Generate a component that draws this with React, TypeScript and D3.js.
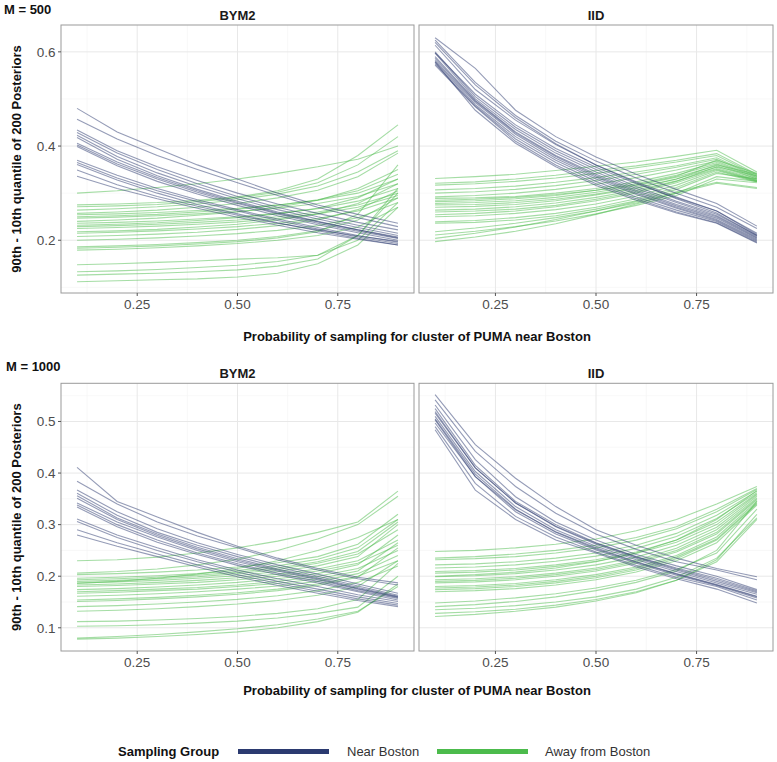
import { useEffect, useRef } from 'react';
import * as d3 from 'd3';

// sampling probabilities (x) shared by every line
const probs = [0.1, 0.2, 0.3, 0.4, 0.5, 0.6, 0.7, 0.8, 0.9];

const facets = ['BYM2', 'IID'];
const groups = ['Near Boston', 'Away from Boston'];
const groupColors = ['#2B3A70', '#4CBB4C'];

const xTicks = [0.25, 0.5, 0.75];
const xMinor = [0.125, 0.375, 0.625, 0.875];
const yTicks500 = [0.2, 0.4, 0.6];
const yMinor500 = [0.1, 0.3, 0.5];
const yTicks1000 = [0.1, 0.2, 0.3, 0.4, 0.5];
const yMinor1000 = [0.15, 0.25, 0.35, 0.45, 0.55];

// M = 500, BYM2
const near500BYM2 = [
  [0.48, 0.43, 0.395, 0.36, 0.33, 0.3, 0.275, 0.255, 0.236],
  [0.457, 0.415, 0.38, 0.35, 0.322, 0.295, 0.27, 0.248, 0.229],
  [0.434, 0.39, 0.356, 0.327, 0.3, 0.277, 0.257, 0.238, 0.222],
  [0.429, 0.385, 0.35, 0.32, 0.293, 0.27, 0.25, 0.232, 0.215],
  [0.423, 0.378, 0.343, 0.314, 0.288, 0.265, 0.245, 0.227, 0.21],
  [0.418, 0.372, 0.337, 0.308, 0.283, 0.26, 0.24, 0.222, 0.205],
  [0.406, 0.366, 0.333, 0.305, 0.28, 0.258, 0.239, 0.222, 0.207],
  [0.402, 0.362, 0.33, 0.302, 0.278, 0.256, 0.236, 0.219, 0.204],
  [0.399, 0.358, 0.325, 0.298, 0.274, 0.252, 0.233, 0.216, 0.2],
  [0.37, 0.338, 0.31, 0.286, 0.265, 0.245, 0.227, 0.21, 0.196],
  [0.365, 0.332, 0.305, 0.282, 0.262, 0.242, 0.224, 0.207, 0.193],
  [0.361, 0.328, 0.3, 0.276, 0.256, 0.237, 0.22, 0.204, 0.19],
  [0.349, 0.318, 0.293, 0.272, 0.253, 0.236, 0.222, 0.209, 0.198],
  [0.336, 0.31, 0.288, 0.268, 0.249, 0.232, 0.216, 0.202, 0.19],
];
const away500BYM2 = [
  [0.3, 0.305, 0.312, 0.32, 0.33, 0.342, 0.356, 0.372, 0.4],
  [0.275, 0.277, 0.28, 0.285, 0.292, 0.305, 0.33, 0.38, 0.445],
  [0.271, 0.273, 0.276, 0.282, 0.29, 0.302, 0.322, 0.36, 0.42],
  [0.264, 0.267, 0.271, 0.277, 0.286, 0.298, 0.315, 0.345, 0.39],
  [0.257, 0.26, 0.264, 0.27, 0.278, 0.29, 0.306, 0.335, 0.385],
  [0.254, 0.256, 0.259, 0.263, 0.268, 0.275, 0.285, 0.3, 0.33],
  [0.25, 0.252, 0.255, 0.26, 0.266, 0.274, 0.286, 0.305, 0.34],
  [0.247, 0.249, 0.252, 0.256, 0.261, 0.268, 0.278, 0.293, 0.32],
  [0.24, 0.243, 0.247, 0.253, 0.26, 0.27, 0.285, 0.31, 0.35],
  [0.236, 0.238, 0.241, 0.245, 0.25, 0.257, 0.267, 0.283, 0.31],
  [0.232, 0.234, 0.237, 0.242, 0.248, 0.256, 0.268, 0.29, 0.33],
  [0.229, 0.231, 0.234, 0.238, 0.243, 0.25, 0.26, 0.275, 0.3],
  [0.225, 0.227, 0.23, 0.234, 0.239, 0.246, 0.256, 0.27, 0.295],
  [0.218, 0.22, 0.223, 0.228, 0.234, 0.243, 0.256, 0.278, 0.32],
  [0.215, 0.217, 0.22, 0.224, 0.229, 0.236, 0.246, 0.262, 0.29],
  [0.208, 0.21, 0.213, 0.217, 0.223, 0.231, 0.243, 0.265, 0.305],
  [0.2, 0.202, 0.205, 0.209, 0.214, 0.221, 0.231, 0.248, 0.28],
  [0.186, 0.188, 0.191, 0.195, 0.2, 0.208, 0.22, 0.243, 0.29],
  [0.183, 0.185, 0.188, 0.192, 0.197, 0.205, 0.218, 0.255, 0.36],
  [0.179, 0.181, 0.184, 0.188, 0.193, 0.2, 0.21, 0.228, 0.27],
  [0.148, 0.15, 0.153, 0.156, 0.16, 0.163, 0.168, 0.21, 0.31],
  [0.133, 0.135, 0.138, 0.142, 0.147, 0.155, 0.168, 0.2, 0.28],
  [0.126, 0.128, 0.13, 0.133, 0.137, 0.145, 0.16, 0.21, 0.3],
  [0.112, 0.114, 0.116, 0.118, 0.122, 0.13, 0.15, 0.19, 0.27],
];

// M = 500, IID
const near500IID = [
  [0.63, 0.565, 0.476, 0.42, 0.377, 0.34, 0.308, 0.278, 0.23],
  [0.625, 0.535, 0.465, 0.41, 0.368, 0.332, 0.3, 0.27, 0.225],
  [0.614, 0.52, 0.455, 0.403, 0.36, 0.324, 0.292, 0.262, 0.215],
  [0.62, 0.53, 0.46, 0.405, 0.36, 0.322, 0.288, 0.258, 0.21],
  [0.6, 0.505, 0.44, 0.39, 0.35, 0.314, 0.283, 0.255, 0.21],
  [0.598, 0.51, 0.445, 0.395, 0.355, 0.32, 0.29, 0.262, 0.212],
  [0.597, 0.5, 0.435, 0.385, 0.345, 0.31, 0.28, 0.252, 0.208],
  [0.59, 0.497, 0.43, 0.38, 0.34, 0.306, 0.276, 0.25, 0.206],
  [0.586, 0.495, 0.428, 0.378, 0.337, 0.303, 0.273, 0.247, 0.204],
  [0.582, 0.492, 0.425, 0.374, 0.334, 0.3, 0.27, 0.244, 0.202],
  [0.579, 0.488, 0.42, 0.37, 0.33, 0.297, 0.268, 0.242, 0.2],
  [0.578, 0.476, 0.406, 0.356, 0.316, 0.285, 0.258, 0.236, 0.194],
  [0.575, 0.485, 0.415, 0.365, 0.325, 0.292, 0.264, 0.24, 0.198],
  [0.572, 0.483, 0.41, 0.36, 0.32, 0.288, 0.26, 0.237, 0.196],
];
const away500IID = [
  [0.331, 0.335, 0.34, 0.348, 0.357, 0.366, 0.378, 0.391, 0.345],
  [0.321, 0.324, 0.33, 0.338, 0.348, 0.358, 0.37, 0.384, 0.34],
  [0.317, 0.32, 0.325, 0.332, 0.342, 0.354, 0.366, 0.38, 0.338],
  [0.307, 0.31, 0.315, 0.323, 0.333, 0.345, 0.358, 0.375, 0.336],
  [0.3, 0.303, 0.308, 0.316, 0.327, 0.34, 0.355, 0.372, 0.335],
  [0.292, 0.295, 0.3, 0.308, 0.319, 0.333, 0.349, 0.368, 0.333],
  [0.289, 0.29, 0.293, 0.3, 0.31, 0.324, 0.342, 0.365, 0.332],
  [0.285, 0.287, 0.291, 0.297, 0.306, 0.318, 0.336, 0.37, 0.342],
  [0.282, 0.284, 0.288, 0.295, 0.306, 0.32, 0.338, 0.362, 0.33],
  [0.278, 0.28, 0.284, 0.291, 0.302, 0.316, 0.334, 0.358, 0.33],
  [0.275, 0.276, 0.28, 0.287, 0.298, 0.312, 0.33, 0.355, 0.328],
  [0.27, 0.272, 0.276, 0.284, 0.296, 0.31, 0.33, 0.36, 0.34],
  [0.264, 0.266, 0.271, 0.279, 0.291, 0.306, 0.326, 0.352, 0.327],
  [0.26, 0.262, 0.266, 0.274, 0.287, 0.303, 0.325, 0.356, 0.337],
  [0.254, 0.257, 0.262, 0.271, 0.284, 0.3, 0.322, 0.35, 0.326],
  [0.25, 0.252, 0.257, 0.265, 0.277, 0.294, 0.317, 0.348, 0.325],
  [0.239, 0.242, 0.248, 0.257, 0.27, 0.288, 0.312, 0.345, 0.324],
  [0.236, 0.238, 0.243, 0.252, 0.266, 0.284, 0.308, 0.342, 0.33],
  [0.218, 0.226, 0.236, 0.248, 0.262, 0.279, 0.3, 0.335, 0.325],
  [0.211, 0.219, 0.229, 0.241, 0.256, 0.274, 0.295, 0.33, 0.322],
  [0.204, 0.215, 0.228, 0.244, 0.262, 0.282, 0.303, 0.323, 0.312],
  [0.197, 0.207, 0.219, 0.235, 0.255, 0.277, 0.3, 0.321, 0.31],
];

// M = 1000, BYM2
const near1000BYM2 = [
  [0.411, 0.345, 0.315, 0.285, 0.258, 0.235, 0.215, 0.198, 0.187],
  [0.384, 0.34, 0.305, 0.278, 0.255, 0.232, 0.212, 0.195, 0.183],
  [0.367, 0.325, 0.292, 0.265, 0.242, 0.222, 0.204, 0.185, 0.167],
  [0.361, 0.318, 0.285, 0.26, 0.238, 0.218, 0.2, 0.181, 0.163],
  [0.356, 0.313, 0.282, 0.256, 0.234, 0.214, 0.197, 0.178, 0.161],
  [0.351, 0.31, 0.279, 0.253, 0.231, 0.212, 0.195, 0.176, 0.16],
  [0.342, 0.305, 0.276, 0.25, 0.228, 0.21, 0.193, 0.175, 0.159],
  [0.338, 0.3, 0.27, 0.245, 0.224, 0.206, 0.19, 0.172, 0.157],
  [0.334, 0.296, 0.266, 0.242, 0.221, 0.203, 0.187, 0.17, 0.154],
  [0.311, 0.28, 0.255, 0.232, 0.212, 0.195, 0.18, 0.164, 0.151],
  [0.306, 0.275, 0.25, 0.228, 0.208, 0.19, 0.175, 0.16, 0.147],
  [0.29, 0.265, 0.243, 0.222, 0.203, 0.186, 0.171, 0.156, 0.144],
  [0.28, 0.258, 0.238, 0.218, 0.199, 0.182, 0.167, 0.153, 0.141],
];
const away1000BYM2 = [
  [0.23, 0.232, 0.237, 0.245, 0.255, 0.268, 0.285, 0.305, 0.365],
  [0.206, 0.209, 0.214, 0.222, 0.233, 0.25, 0.272, 0.3, 0.355],
  [0.203, 0.205, 0.208, 0.212, 0.218, 0.226, 0.238, 0.262, 0.32],
  [0.196, 0.198, 0.201, 0.205, 0.211, 0.22, 0.233, 0.255, 0.31],
  [0.193, 0.195, 0.198, 0.202, 0.208, 0.216, 0.228, 0.248, 0.305],
  [0.19, 0.192, 0.195, 0.199, 0.205, 0.213, 0.225, 0.243, 0.29],
  [0.187, 0.189, 0.192, 0.196, 0.201, 0.209, 0.22, 0.238, 0.3],
  [0.186, 0.19, 0.196, 0.204, 0.215, 0.23, 0.25, 0.275, 0.31],
  [0.183, 0.185, 0.188, 0.192, 0.197, 0.204, 0.214, 0.23, 0.27],
  [0.18, 0.182, 0.185, 0.188, 0.193, 0.2, 0.21, 0.225, 0.26],
  [0.174, 0.176, 0.179, 0.183, 0.188, 0.195, 0.205, 0.222, 0.28],
  [0.17, 0.172, 0.175, 0.178, 0.183, 0.19, 0.2, 0.215, 0.25],
  [0.167, 0.169, 0.172, 0.175, 0.18, 0.186, 0.195, 0.21, 0.265],
  [0.161, 0.163, 0.166, 0.17, 0.175, 0.181, 0.19, 0.205, 0.24],
  [0.154, 0.156, 0.159, 0.163, 0.168, 0.175, 0.185, 0.2, 0.23],
  [0.151, 0.153, 0.156, 0.16, 0.165, 0.172, 0.182, 0.198, 0.255],
  [0.141, 0.143, 0.146, 0.15, 0.155, 0.162, 0.172, 0.188, 0.22],
  [0.132, 0.134, 0.137, 0.141, 0.146, 0.153, 0.163, 0.18, 0.23],
  [0.112, 0.113, 0.115, 0.118, 0.122, 0.128, 0.137, 0.155, 0.225],
  [0.103, 0.104, 0.106, 0.109, 0.113, 0.119, 0.128, 0.14, 0.2],
  [0.08, 0.083, 0.087, 0.092, 0.098, 0.106, 0.117, 0.132, 0.18],
  [0.078, 0.08, 0.083, 0.087, 0.092, 0.1, 0.112, 0.13, 0.185],
];

// M = 1000, IID
const near1000IID = [
  [0.552, 0.455, 0.39, 0.335, 0.29, 0.26, 0.235, 0.215, 0.199],
  [0.542, 0.442, 0.374, 0.322, 0.282, 0.252, 0.228, 0.212, 0.193],
  [0.532, 0.426, 0.354, 0.305, 0.27, 0.242, 0.22, 0.2, 0.174],
  [0.525, 0.415, 0.345, 0.3, 0.265, 0.238, 0.216, 0.196, 0.172],
  [0.519, 0.41, 0.342, 0.297, 0.264, 0.237, 0.214, 0.193, 0.17],
  [0.516, 0.41, 0.342, 0.296, 0.262, 0.235, 0.212, 0.19, 0.168],
  [0.51, 0.403, 0.335, 0.29, 0.258, 0.232, 0.209, 0.187, 0.165],
  [0.505, 0.398, 0.33, 0.285, 0.253, 0.227, 0.204, 0.183, 0.16],
  [0.503, 0.393, 0.329, 0.286, 0.255, 0.228, 0.205, 0.184, 0.161],
  [0.497, 0.393, 0.325, 0.282, 0.251, 0.225, 0.202, 0.182, 0.158],
  [0.49, 0.38, 0.316, 0.276, 0.247, 0.221, 0.198, 0.18, 0.154],
  [0.484, 0.367, 0.31, 0.27, 0.245, 0.218, 0.195, 0.175, 0.148],
];
const away1000IID = [
  [0.248, 0.25, 0.255, 0.262, 0.272, 0.288, 0.31, 0.34, 0.374],
  [0.235, 0.238, 0.243, 0.25, 0.26, 0.275, 0.296, 0.33, 0.37],
  [0.232, 0.234, 0.238, 0.245, 0.255, 0.27, 0.292, 0.325, 0.368],
  [0.222, 0.224, 0.228, 0.235, 0.245, 0.26, 0.283, 0.318, 0.365],
  [0.216, 0.218, 0.222, 0.229, 0.239, 0.254, 0.277, 0.312, 0.362],
  [0.209, 0.211, 0.215, 0.222, 0.232, 0.247, 0.27, 0.305, 0.36],
  [0.206, 0.208, 0.212, 0.219, 0.229, 0.244, 0.266, 0.3, 0.358],
  [0.2, 0.203, 0.208, 0.216, 0.228, 0.245, 0.27, 0.31, 0.366],
  [0.199, 0.201, 0.205, 0.212, 0.222, 0.237, 0.26, 0.295, 0.355],
  [0.193, 0.195, 0.199, 0.206, 0.216, 0.231, 0.254, 0.29, 0.352],
  [0.19, 0.192, 0.196, 0.203, 0.213, 0.228, 0.25, 0.285, 0.35],
  [0.187, 0.189, 0.193, 0.2, 0.21, 0.225, 0.247, 0.282, 0.348],
  [0.18, 0.182, 0.186, 0.193, 0.203, 0.218, 0.24, 0.276, 0.345],
  [0.177, 0.179, 0.183, 0.19, 0.2, 0.215, 0.237, 0.272, 0.342],
  [0.174, 0.176, 0.18, 0.187, 0.197, 0.212, 0.234, 0.27, 0.34],
  [0.17, 0.172, 0.176, 0.183, 0.193, 0.208, 0.23, 0.265, 0.338],
  [0.148, 0.152, 0.158, 0.166, 0.177, 0.192, 0.213, 0.245, 0.33],
  [0.141, 0.145, 0.151, 0.16, 0.172, 0.188, 0.21, 0.25, 0.345],
  [0.135, 0.138, 0.143, 0.15, 0.16, 0.175, 0.198, 0.235, 0.313],
  [0.128, 0.131, 0.136, 0.144, 0.155, 0.17, 0.192, 0.228, 0.31],
  [0.122, 0.126, 0.132, 0.14, 0.152, 0.168, 0.192, 0.232, 0.32],
];

const rows = [
  {
    label: 'M = 500', labelX: 4, labelY: 13.5, top: 25, bottom: 293, titleY: 341,
    yDomain: [0.088, 0.657], yTicks: yTicks500, yMinor: yMinor500,
    series: [[near500BYM2, away500BYM2], [near500IID, away500IID]],
  },
  {
    label: 'M = 1000', labelX: 6, labelY: 370.5, top: 383.3, bottom: 651, titleY: 695,
    yDomain: [0.055, 0.574], yTicks: yTicks1000, yMinor: yMinor1000,
    series: [[near1000BYM2, away1000BYM2], [near1000IID, away1000IID]],
  },
];

const cols = [[61, 414], [419, 773]];
const font = '"Liberation Sans", Arial, sans-serif';

const App = () => {
  const svgRef = useRef<SVGSVGElement>(null);

  useEffect(() => {
    const svg = d3.select(svgRef.current);
    svg.selectAll('*').remove();
    svg.attr('font-family', font);

    const fmtX = d3.format('.2f');
    const fmtY = d3.format('.1f');

    rows.forEach(row => {
      const y = d3.scaleLinear().domain(row.yDomain).range([row.bottom, row.top]);

      cols.forEach((range, ci) => {
        const x = d3.scaleLinear().domain([0.06, 0.94]).range(range);
        const g = svg.append('g');

        // panel background + grid
        g.append('rect')
          .attr('x', range[0]).attr('y', row.top)
          .attr('width', range[1] - range[0]).attr('height', row.bottom - row.top)
          .attr('fill', '#fff');

        g.selectAll('.xminor').data(xMinor).join('line')
          .attr('x1', d => x(d)).attr('x2', d => x(d))
          .attr('y1', row.top).attr('y2', row.bottom)
          .attr('stroke', '#f3f3f3').attr('stroke-width', 0.6);
        g.selectAll('.yminor').data(row.yMinor).join('line')
          .attr('x1', range[0]).attr('x2', range[1])
          .attr('y1', d => y(d)).attr('y2', d => y(d))
          .attr('stroke', '#f3f3f3').attr('stroke-width', 0.6);
        g.selectAll('.xmajor').data(xTicks).join('line')
          .attr('x1', d => x(d)).attr('x2', d => x(d))
          .attr('y1', row.top).attr('y2', row.bottom)
          .attr('stroke', '#e8e8e8').attr('stroke-width', 1);
        g.selectAll('.ymajor').data(row.yTicks).join('line')
          .attr('x1', range[0]).attr('x2', range[1])
          .attr('y1', d => y(d)).attr('y2', d => y(d))
          .attr('stroke', '#e8e8e8').attr('stroke-width', 1);

        const line = d3.line<number>()
          .x((_, i) => x(probs[i]))
          .y(d => y(d));

        const [near, away] = row.series[ci];
        [away, near].forEach((lines, k) => {
          const color = k === 0 ? groupColors[1] : groupColors[0];
          g.append('g')
            .selectAll('path')
            .data(lines)
            .join('path')
            .attr('d', d => line(d))
            .attr('fill', 'none')
            .attr('stroke', color)
            .attr('stroke-opacity', 0.5)
            .attr('stroke-width', 1.1);
        });

        // border
        g.append('rect')
          .attr('x', range[0]).attr('y', row.top)
          .attr('width', range[1] - range[0]).attr('height', row.bottom - row.top)
          .attr('fill', 'none').attr('stroke', '#9a9a9a').attr('stroke-width', 1);

        // x axis ticks + labels
        g.selectAll('.xtick').data(xTicks).join('line')
          .attr('x1', d => x(d)).attr('x2', d => x(d))
          .attr('y1', row.bottom).attr('y2', row.bottom + 3)
          .attr('stroke', '#555');
        g.selectAll('.xlab').data(xTicks).join('text')
          .attr('x', d => x(d)).attr('y', row.bottom + 15.5)
          .attr('text-anchor', 'middle')
          .attr('font-size', 13.5).attr('fill', '#4d4d4d')
          .text(d => fmtX(d));

        // y axis only on first column
        if (ci === 0) {
          g.selectAll('.ytick').data(row.yTicks).join('line')
            .attr('x1', range[0] - 3).attr('x2', range[0])
            .attr('y1', d => y(d)).attr('y2', d => y(d))
            .attr('stroke', '#555');
          g.selectAll('.ylab').data(row.yTicks).join('text')
            .attr('x', range[0] - 5.5).attr('y', d => y(d))
            .attr('dy', '0.35em')
            .attr('text-anchor', 'end')
            .attr('font-size', 13.5).attr('fill', '#4d4d4d')
            .text(d => fmtY(d));
        }

        // strip label
        g.append('text')
          .attr('x', (range[0] + range[1]) / 2).attr('y', row.top - 5.5)
          .attr('text-anchor', 'middle')
          .attr('font-size', 13).attr('font-weight', 'bold').attr('fill', '#1a1a1a')
          .text(facets[ci]);
      });

      // row tag
      svg.append('text')
        .attr('x', row.labelX).attr('y', row.labelY)
        .attr('font-size', 13).attr('font-weight', 'bold').attr('fill', '#111')
        .text(row.label);

      // axis titles
      svg.append('text')
        .attr('transform', `translate(20.5,${(row.top + row.bottom) / 2}) rotate(-90)`)
        .attr('text-anchor', 'middle')
        .attr('font-size', 13).attr('font-weight', 'bold').attr('fill', '#111')
        .text('90th - 10th quantile of 200 Posteriors');

      svg.append('text')
        .attr('x', (cols[0][0] + cols[1][1]) / 2).attr('y', row.titleY)
        .attr('text-anchor', 'middle')
        .attr('font-size', 13).attr('font-weight', 'bold').attr('fill', '#111')
        .text('Probability of sampling for cluster of PUMA near Boston');
    });

    // legend
    const legend = svg.append('g').attr('transform', 'translate(0,751.5)');
    legend.append('text')
      .attr('x', 118).attr('dy', '0.35em')
      .attr('font-size', 13).attr('font-weight', 'bold').attr('fill', '#111')
      .text('Sampling Group');
    const keyX = [238, 437];
    const labX = [347, 545];
    groups.forEach((name, i) => {
      legend.append('line')
        .attr('x1', keyX[i]).attr('x2', keyX[i] + 91)
        .attr('stroke', groupColors[i]).attr('stroke-width', 5);
      legend.append('text')
        .attr('x', labX[i]).attr('dy', '0.35em')
        .attr('font-size', 13).attr('fill', '#333')
        .text(name);
    });
  }, []);

  return (
    <svg
      ref={svgRef}
      width={777}
      height={762}
      style={{ position: 'absolute', left: 0, top: 0, display: 'block', background: '#fff' }}
    />
  );
};

export default App;
